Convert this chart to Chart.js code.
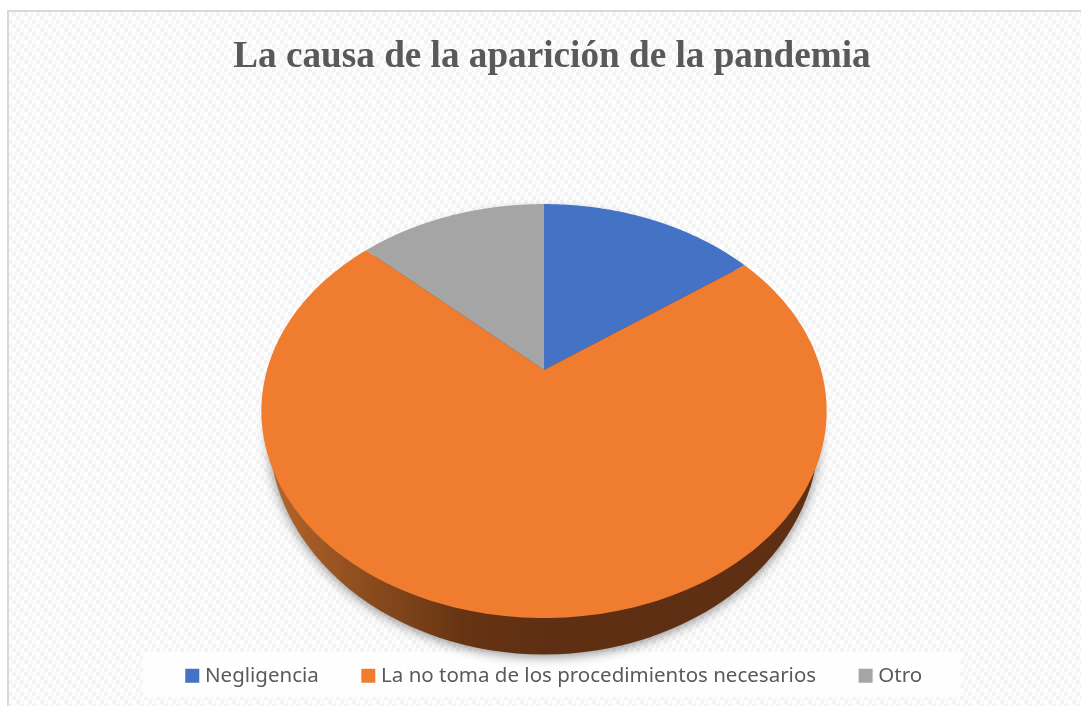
<!DOCTYPE html>
<html>
<head>
<meta charset="utf-8">
<script src="https://cdn.jsdelivr.net/npm/chart.js@4/dist/chart.umd.js"></script>
<style>
  html, body { margin: 0; padding: 0; background: #fff; }
  canvas { display: block; }
</style>
</head>
<body>
<canvas id="pie" width="1081" height="706"></canvas>
<script>
const chartTitle = 'La causa de la aparición de la pandemia';
const categories = ['Negligencia', 'La no toma de los procedimientos necesarios', 'Otro'];
const values = [15, 72, 13];
const sliceColors = ['#4472C4', '#F07C30', '#A5A5A5'];

// Look of the tilted pie, everything relative to the radius of the arc
const persp = -0.198, stretchX = 1.669, stretchY = 1.198;
const rimDrop = 0.37, rimX = 1.657, rimY = 1.343;

function tiltPoint(arc, angle) {
  const u = Math.cos(angle), v = Math.sin(angle), r = arc.outerRadius;
  const w = 1 + persp * v;
  return [arc.x + r * stretchX * u / w, arc.y + r * stretchY * v / w];
}

function hatchPattern(ctx) {
  const tile = document.createElement('canvas');
  tile.width = tile.height = 12;
  const t = tile.getContext('2d');
  t.fillStyle = '#ffffff';
  t.fillRect(0, 0, 12, 12);
  for (let i = 0; i < 12; i += 4) {
    t.fillStyle = '#f3f3f3';
    t.fillRect(i, i, 4, 4);
    t.fillStyle = '#f9f9f9';
    t.fillRect((i + 6) % 12, i, 4, 4);
  }
  return ctx.createPattern(tile, 'repeat');
}

// Frame, hatching and the pale strip behind the legend
const backdrop = {
  id: 'backdrop',
  afterLayout(chart) {
    // title and legend sit a bit right of the pie
    chart.titleBlock.left += 8;
    chart.titleBlock.right += 8;
    chart.legend.left += 12;
    chart.legend.right += 12;
    chart.legend.adjustHitBoxes();
  },
  beforeDraw(chart) {
    const ctx = chart.ctx;
    ctx.save();
    ctx.fillStyle = '#ffffff';
    ctx.fillRect(0, 0, chart.width, chart.height);
    ctx.fillStyle = hatchPattern(ctx);
    ctx.fillRect(9, 12, 1072, 694);
    ctx.fillStyle = '#d9d9d9';
    ctx.fillRect(7, 10, 1074, 2);
    ctx.fillRect(7, 10, 2, 696);
    const boxes = chart.legend.legendHitBoxes;
    const last = boxes[boxes.length - 1];
    ctx.fillStyle = 'rgba(255,255,255,0.85)';
    ctx.fillRect(boxes[0].left - 47, 652, last.left + last.width - boxes[0].left + 85, 45);
    ctx.restore();
  }
};

// Draws the arcs of the dataset with a 3D tilt instead of the flat default
const tiltedPie = {
  id: 'tiltedPie',
  beforeDatasetDraw(chart, args) {
    const ctx = chart.ctx;
    const arcs = args.meta.data;
    const first = arcs[0];
    const r = first.outerRadius;

    ctx.save();
    const rim = ctx.createLinearGradient(first.x - r * rimX, 0, first.x, 0);
    rim.addColorStop(0, '#B8652C');
    rim.addColorStop(0.3, '#91501F');
    rim.addColorStop(0.7, '#673413');
    rim.addColorStop(1, '#5E2F12');
    ctx.fillStyle = rim;
    ctx.shadowColor = 'rgba(0,0,0,0.45)';
    ctx.shadowBlur = 12;
    ctx.shadowOffsetY = 2;
    ctx.beginPath();
    ctx.ellipse(first.x, first.y + r * rimDrop, r * rimX, r * rimY, 0, 0, Math.PI * 2);
    ctx.fill();
    ctx.restore();

    arcs.forEach((arc, i) => {
      ctx.beginPath();
      ctx.moveTo(arc.x, arc.y);
      const steps = 180;
      for (let s = 0; s <= steps; s++) {
        const a = arc.startAngle + (arc.endAngle - arc.startAngle) * s / steps;
        const p = tiltPoint(arc, a);
        ctx.lineTo(p[0], p[1]);
      }
      ctx.closePath();
      ctx.fillStyle = sliceColors[i];
      ctx.fill();
    });
    return false;
  }
};

new Chart(document.getElementById('pie'), {
  type: 'pie',
  data: {
    labels: categories,
    datasets: [{ data: values, backgroundColor: sliceColors, borderWidth: 0 }]
  },
  options: {
    responsive: false,
    animation: false,
    radius: 166,
    layout: { padding: { left: 7, right: 0, top: 23, bottom: 10 } },
    plugins: {
      tooltip: { enabled: false },
      title: {
        display: true,
        text: chartTitle,
        color: '#595959',
        font: { family: '"Liberation Serif"', size: 37.2, weight: 'bold' },
        padding: { top: 12, bottom: 42 }
      },
      legend: {
        position: 'bottom',
        labels: {
          color: '#595959',
          font: { family: '"Noto Sans"', size: 20.5 },
          usePointStyle: true,
          pointStyle: 'rect',
          boxWidth: 5,
          boxHeight: 14,
          padding: 47
        }
      }
    }
  },
  plugins: [backdrop, tiltedPie]
});
</script>
</body>
</html>
